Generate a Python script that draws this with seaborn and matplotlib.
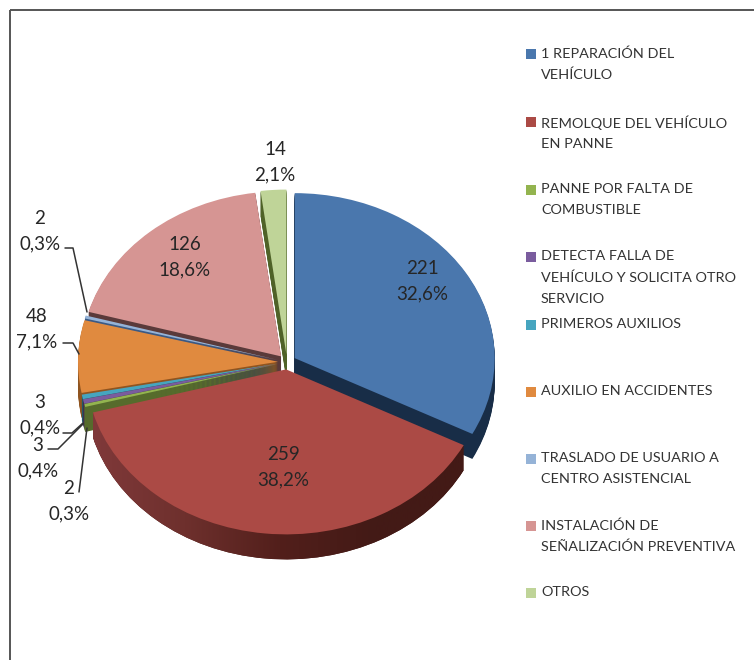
import numpy as np
import matplotlib
matplotlib.use("Agg")
import matplotlib.pyplot as plt
from matplotlib.colors import LinearSegmentedColormap
from matplotlib.path import Path
import seaborn as sns

sns.set_theme(style="white")
plt.rcParams['font.family'] = ['Lato', 'DejaVu Sans']

W, H = 754, 660
categories = ["1 REPARACIÓN DEL\nVEHÍCULO", "REMOLQUE DEL VEHÍCULO\nEN PANNE",
              "PANNE POR FALTA DE\nCOMBUSTIBLE", "DETECTA FALLA DE\nVEHÍCULO Y SOLICITA OTRO\nSERVICIO",
              "PRIMEROS AUXILIOS", "AUXILIO EN ACCIDENTES",
              "TRASLADO DE USUARIO A\nCENTRO ASISTENCIAL",
              "INSTALACIÓN DE\nSEÑALIZACIÓN PREVENTIVA", "OTROS"]
values = [221, 259, 2, 3, 3, 48, 2, 126, 14]
percents = ["32,6%", "38,2%", "0,3%", "0,4%", "0,4%", "7,1%", "0,3%", "18,6%", "2,1%"]
top_colors = ["#4a77ad", "#ab4a45", "#93b44f", "#7a5c9e", "#46a5bf", "#e08a3f", "#95b3d7", "#d69593", "#bfd498"]
side_colors = ["#182d47", "#4a1d19", "#566b2c", "#3f3151", "#215968", "#8f5420", "#3b5a85", "#5a3a3a", "#4f6228"]
legend_y = [53, 121, 189, 256, 324, 391, 458, 525, 592]
label_xy = [(422, 281), (283, 467), (69, 501), (38, 458), (40, 415), (37, 329), (40, 231), (185, 257), (275, 162)]
leaders = [[(79, 492), (87, 428)],
           [(48, 449), (58, 449), (83, 424)],
           [(63, 433), (72, 433), (83, 423)],
           [(63, 343), (73, 343), (79, 354)],
           [(65, 248), (73, 248), (87, 312)]]

squash = 0.825
radius = 200
cx, cy = 287, 362
depth = 25
explode_all = [9] * len(values)

# draw order, back to front: small rear slices first, blue then red on top
order = {8: 0, 7: 1, 6: 2, 5: 3, 4: 4, 3: 5, 2: 6, 0: 7, 1: 8}

fig = plt.figure(figsize=(W / 100, H / 100), dpi=100, facecolor="white")
ax = fig.add_axes([0, 0, 1, 1])

red_side_paths = []
for d in range(depth, -1, -1):
    colors = top_colors if d == 0 else side_colors
    wedges, _ = ax.pie(values, colors=colors, explode=explode_all, startangle=90,
                       counterclock=False, radius=radius,
                       center=(cx, (H - cy - d) / squash), frame=True,
                       wedgeprops=dict(linewidth=0))
    for i, w in enumerate(wedges):
        w.set_zorder(order[i] * 100 + (depth - d) + 2)
    if d > 0:
        red_side_paths.append(wedges[1].get_path())

# shading along the side wall of the red slice
shade = LinearSegmentedColormap.from_list("side", ["#80393a", "#6e302d", "#521f1b", "#431a16", "#431a16"])
img = ax.imshow(np.linspace(0, 1, 256).reshape(1, -1), cmap=shade, aspect="auto",
                extent=(90, 470, 0, H / squash), zorder=order[1] * 100 + depth + 1.5)
img.set_clip_path(Path.make_compound_path(*red_side_paths), ax.transData)

ax.set_aspect("auto")
ax.set_xlim(0, W)
ax.set_ylim(0, H / squash)
ax.axis("off")

ov = fig.add_axes([0, 0, 1, 1], facecolor="none")
ov.set_xlim(0, W)
ov.set_ylim(H, 0)
ov.axis("off")

# outer frame
ov.plot([10, 10], [H, 10], color="#555555", lw=1.4, solid_capstyle="butt")
ov.plot([10, W], [10, 10], color="#555555", lw=1.4, solid_capstyle="butt")

for val, pct, (x, y) in zip(values, percents, label_xy):
    ov.text(x, y, f"{val}\n{pct}", ha="center", va="center", fontsize=13.5,
            color="#262626", linespacing=1.56)

for seg in leaders:
    ov.plot([p[0] for p in seg], [p[1] for p in seg], color="#333333", lw=1.1)

for name, col, y in zip(categories, top_colors, legend_y):
    ov.scatter([531], [y + 1], marker="s", s=42, color=col, linewidths=0)
    ov.text(541, y - 6, name, ha="left", va="top", fontsize=10.4,
            color="#333333", linespacing=1.9)

fig.savefig("out.png", dpi=100)
